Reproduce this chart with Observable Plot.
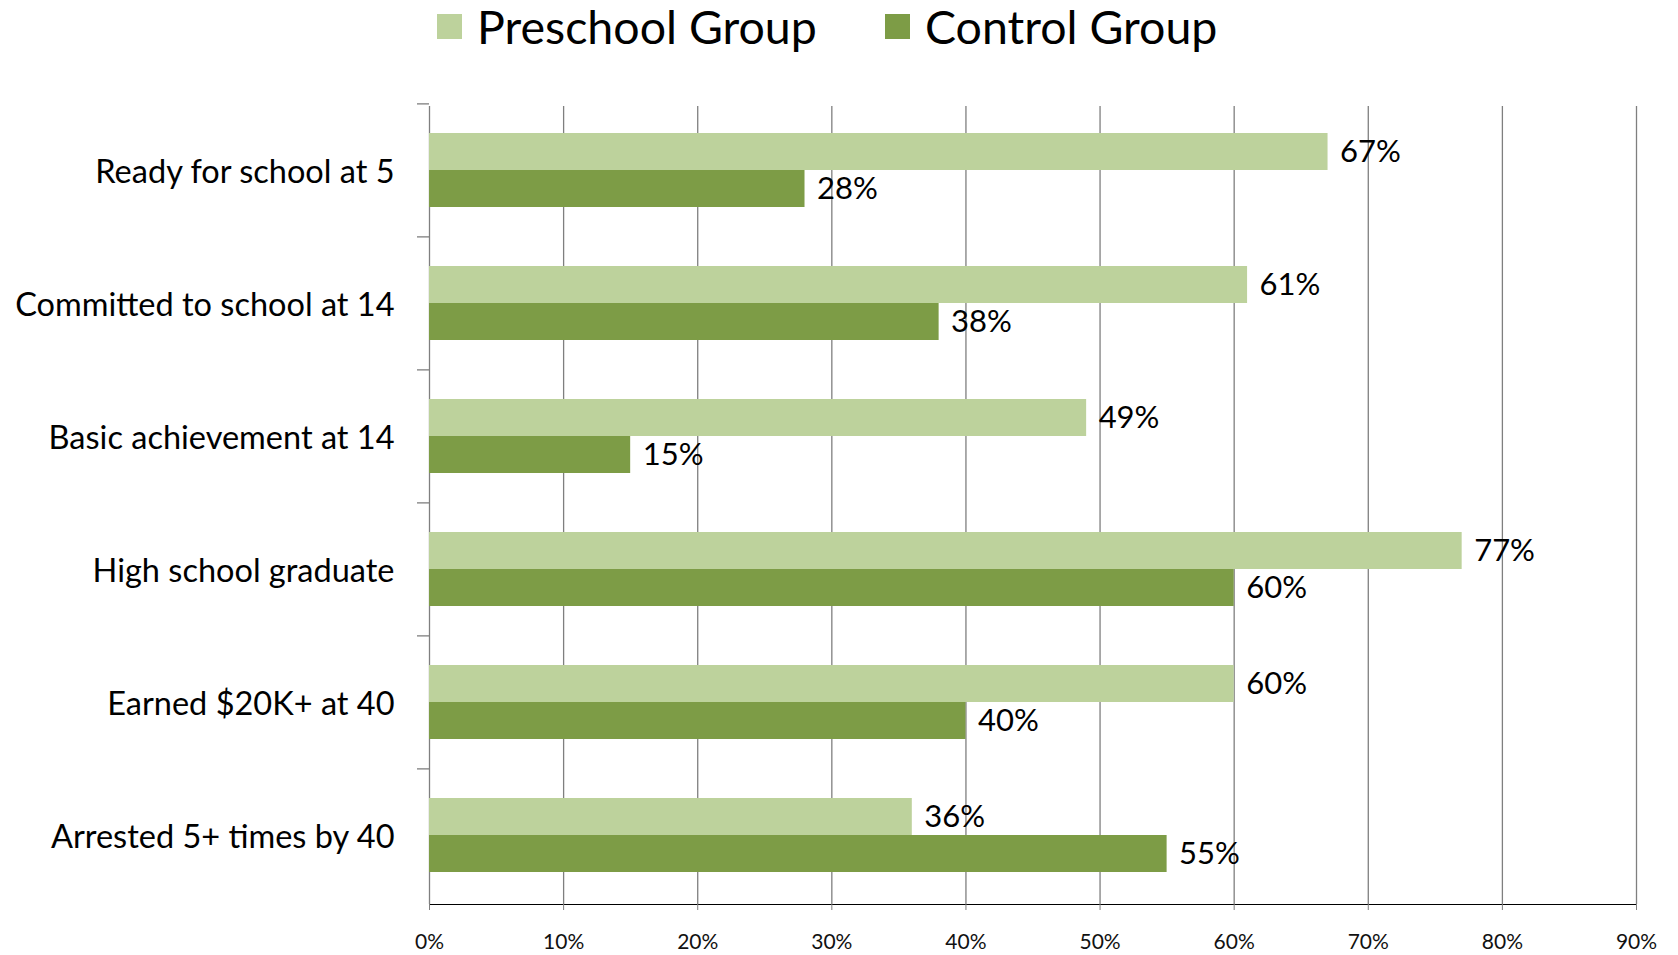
<!DOCTYPE html>
<html><head><meta charset="utf-8">
<script src="https://cdn.jsdelivr.net/npm/d3@7"></script>
<script src="https://cdn.jsdelivr.net/npm/@observablehq/plot@0.6"></script>
<style>
body{margin:0;background:#fff;font-family:Lato,"Open Sans",sans-serif;}
#legend{position:relative;height:60px;width:1678px;}
.item{position:absolute;top:0;height:52px;display:flex;align-items:center;font-size:46.5px;color:#000;white-space:nowrap;}
.sw{width:25px;height:25px;margin-right:15px;flex:none;}
#chart svg{display:block;}
#chart svg [aria-label^="fy-axis"] text{font-size:32.5px;fill:#000;}
#chart svg [aria-label^="x-axis"] text{font-size:21px;fill:#111;}
#chart svg [aria-label^="x-axis"] line,#chart svg [aria-label^="x-axis"] path{stroke:#7f7f7f;}
</style>
</head><body>
<div id="legend"></div>
<div id="chart"></div>
<script>
const categories = ["Ready for school at 5","Committed to school at 14","Basic achievement at 14","High school graduate","Earned $20K+ at 40","Arrested 5+ times by 40"];
const groups = ["Preschool Group","Control Group"];
const preschool = [67,61,49,77,60,36];
const control = [28,38,15,60,40,55];
const xTicks = [0,10,20,30,40,50,60,70,80,90];
const colors = ["#bdd29c","#7d9c46"];

const rows = categories.flatMap((c,i)=>[
  {category:c, group:groups[0], value:preschool[i]},
  {category:c, group:groups[1], value:control[i]}
]);

// legend
const legend = document.getElementById("legend");
const legendLeft = [437, 885];
groups.forEach((g,i)=>{
  const it = document.createElement("div");
  it.className="item"; it.style.left = legendLeft[i]+"px";
  const sw = document.createElement("span"); sw.className="sw"; sw.style.background = colors[i];
  const tx = document.createElement("span"); tx.textContent = g;
  it.appendChild(sw); it.appendChild(tx); legend.appendChild(it);
});

const W=1678,H=895,mt=44,mb=49,ml=429,mr=42,po=0.786;
const facetH=(H-mt-mb)/categories.length;
const step=facetH/(2+2*po);
const tickDy=-(po*step+step/2);

const chart = Plot.plot({
  width:W,height:H,marginTop:mt,marginBottom:mb,marginLeft:ml,marginRight:mr,
  style:{fontFamily:"Lato, 'Open Sans', sans-serif",fontSize:"21px",color:"#000",background:"#fff",overflow:"visible"},
  facet:{data:rows,y:"category"},
  fy:{domain:categories,padding:0,label:null,tickSize:0,tickPadding:35},
  y:{domain:groups,paddingInner:0,paddingOuter:po,align:0.45,axis:null},
  x:{domain:[0,90],ticks:xTicks,tickFormat:d=>d+"%",tickSize:6,tickPadding:24,line:true,label:null},
  color:{domain:groups,range:colors},
  marks:[
    Plot.ruleX(xTicks,{stroke:"#7f7f7f",strokeWidth:1.3}),
    Plot.ruleY([groups[0]],{y:d=>d,x1:0,x2:0,insetLeft:-12,dy:tickDy,stroke:"#7f7f7f",strokeWidth:1.3}),
    Plot.barX(rows,{y:"group",x:"value",fill:"group"}),
    Plot.text(rows,{y:"group",x:"value",text:d=>d.value+"%",textAnchor:"start",dx:12,fontSize:31,fill:"#000"})
  ]
});
document.getElementById("chart").appendChild(chart);
</script>
</body></html>
